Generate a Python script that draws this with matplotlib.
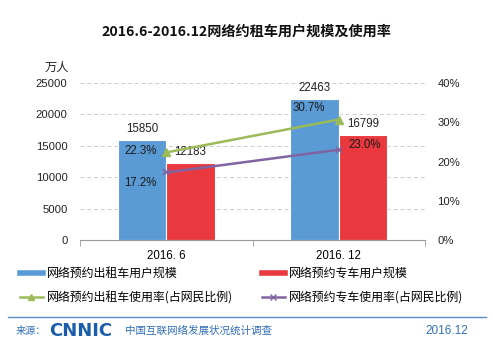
import matplotlib
matplotlib.use("Agg")
import matplotlib.pyplot as plt
from matplotlib.lines import Line2D
import numpy as np

plt.rcParams["font.family"] = ["Noto Sans CJK SC", "DejaVu Sans"]

CATEGORIES = ["2016. 6", "2016. 12"]
TAXI_USERS = [15850, 22463]        # 网络预约出租车用户规模 (万人)
PRIVATE_USERS = [12183, 16799]     # 网络预约专车用户规模 (万人)
TAXI_RATE = [22.3, 30.7]           # 使用率 %
PRIVATE_RATE = [17.2, 23.0]        # 使用率 %

LEFT_TICKS = [0, 5000, 10000, 15000, 20000, 25000]
RIGHT_TICKS = [0, 10, 20, 30, 40]

BLUE = "#5B9BD5"
RED = "#E9393E"
GREEN = "#9BBB59"
PURPLE = "#8064A2"
FOOT_BLUE = "#2F6EB5"
NUM_FONT = "Liberation Sans"

W, H = 493, 352
fig = plt.figure(figsize=(W / 100, H / 100), dpi=100)


def fx(px):
    return px / W


def fy(py):
    return 1 - py / H


ax = fig.add_axes([fx(80), fy(240), fx(425) - fx(80), fy(83) - fy(240)])
ax2 = ax.twinx()

x = np.arange(len(CATEGORIES))
bw = 0.28
b1 = ax.bar(x - bw / 2, TAXI_USERS, bw, color=BLUE, edgecolor="white", linewidth=0.8, zorder=2)
b2 = ax.bar(x + bw / 2, PRIVATE_USERS, bw, color=RED, edgecolor="white", linewidth=0.8, zorder=2)

for rects, vals in ((b1, TAXI_USERS), (b2, PRIVATE_USERS)):
    for r, v in zip(rects, vals):
        ax.annotate(f"{v}", (r.get_x() + r.get_width() / 2, v), xytext=(0, 5),
                    textcoords="offset pixels", ha="center", va="bottom",
                    fontsize=8.3, color="#222222", family=NUM_FONT, zorder=5)

ax.set_xlim(-0.5, 1.5)
ax.set_ylim(0, 25000)
ax.set_yticks(LEFT_TICKS)
ax.set_yticklabels([str(t) for t in LEFT_TICKS], family=NUM_FONT)
ax.set_xticks(x)
ax.set_xticklabels(CATEGORIES, family=NUM_FONT)
ax.set_xticks([-0.5, 0.5, 1.5], minor=True)
ax.tick_params(axis="x", which="major", length=0, labelsize=8.3, pad=7)
ax.tick_params(axis="x", which="minor", length=4, color="#999999")
ax.tick_params(axis="y", length=0, labelsize=8.1, pad=9, labelcolor="#222222")
ax.yaxis.grid(True, linestyle=(0, (4, 3)), color="#cccccc", linewidth=0.7, zorder=0)
ax.set_axisbelow(True)
for s in ("top", "right", "left"):
    ax.spines[s].set_visible(False)
ax.spines["bottom"].set_color("#999999")

ax2.plot(x, TAXI_RATE, color=GREEN, lw=1.8, marker="^", ms=6, zorder=4)
ax2.plot(x, PRIVATE_RATE, color=PURPLE, lw=1.8, marker="x", ms=5, mew=1.2, zorder=4)
ax2.set_ylim(0, 40)
ax2.set_yticks(RIGHT_TICKS)
ax2.set_yticklabels([f"{t}%" for t in RIGHT_TICKS], family=NUM_FONT)
ax2.tick_params(axis="y", length=0, labelsize=8.1, pad=9, labelcolor="#222222")
for s in ax2.spines.values():
    s.set_visible(False)

rate_offsets = {
    ("t", 0): (-26, 1), ("t", 1): (-30, 12),
    ("p", 0): (-26, -11), ("p", 1): (26, 5),
}
for key, vals in (("t", TAXI_RATE), ("p", PRIVATE_RATE)):
    for i, v in enumerate(vals):
        ax2.annotate(f"{v:.1f}%", (x[i], v), xytext=rate_offsets[(key, i)],
                     textcoords="offset pixels", ha="center", va="center",
                     fontsize=8.3, color="#1a1a1a", family=NUM_FONT, zorder=6)

fig.text(0.5, fy(32), "2016.6-2016.12网络约租车用户规模及使用率", ha="center", va="center",
         fontsize=10.2, fontweight="bold", color="#111111")
fig.text(fx(57), fy(67), "万人", ha="center", va="center", fontsize=8.8, color="#222222")

leg_kw = dict(loc="upper left", frameon=False, fontsize=8.6, handlelength=1.9,
              handletextpad=0.35, labelspacing=0.9, borderpad=0, borderaxespad=0)
h1 = [Line2D([], [], color=BLUE, lw=4),
      Line2D([], [], color=GREEN, lw=1.8, marker="^", ms=5)]
h2 = [Line2D([], [], color=RED, lw=4),
      Line2D([], [], color=PURPLE, lw=1.8, marker="x", ms=5)]
fig.legend(h1, ["网络预约出租车用户规模", "网络预约出租车使用率(占网民比例)"],
           bbox_to_anchor=(fx(20), fy(267)), **leg_kw)
fig.legend(h2, ["网络预约专车用户规模", "网络预约专车使用率(占网民比例)"],
           bbox_to_anchor=(fx(262), fy(267)), **leg_kw)

fig.add_artist(Line2D([fx(8), fx(486)], [fy(317), fy(317)], color="#5A8BC5", lw=1))
fig.text(fx(16), fy(331), "来源：", ha="left", va="center", fontsize=7.3, color=FOOT_BLUE)
fig.text(fx(49), fy(331), "CNNIC", ha="left", va="center", fontsize=13, fontweight="bold",
         color="#1C5DAA", family="DejaVu Sans")
fig.text(fx(125), fy(331), "中国互联网络发展状况统计调查", ha="left", va="center",
         fontsize=7.6, color=FOOT_BLUE)
fig.text(fx(468), fy(331), "2016.12", ha="right", va="center", fontsize=8.5,
         color=FOOT_BLUE, family=NUM_FONT)

fig.savefig("out.png", dpi=100)
